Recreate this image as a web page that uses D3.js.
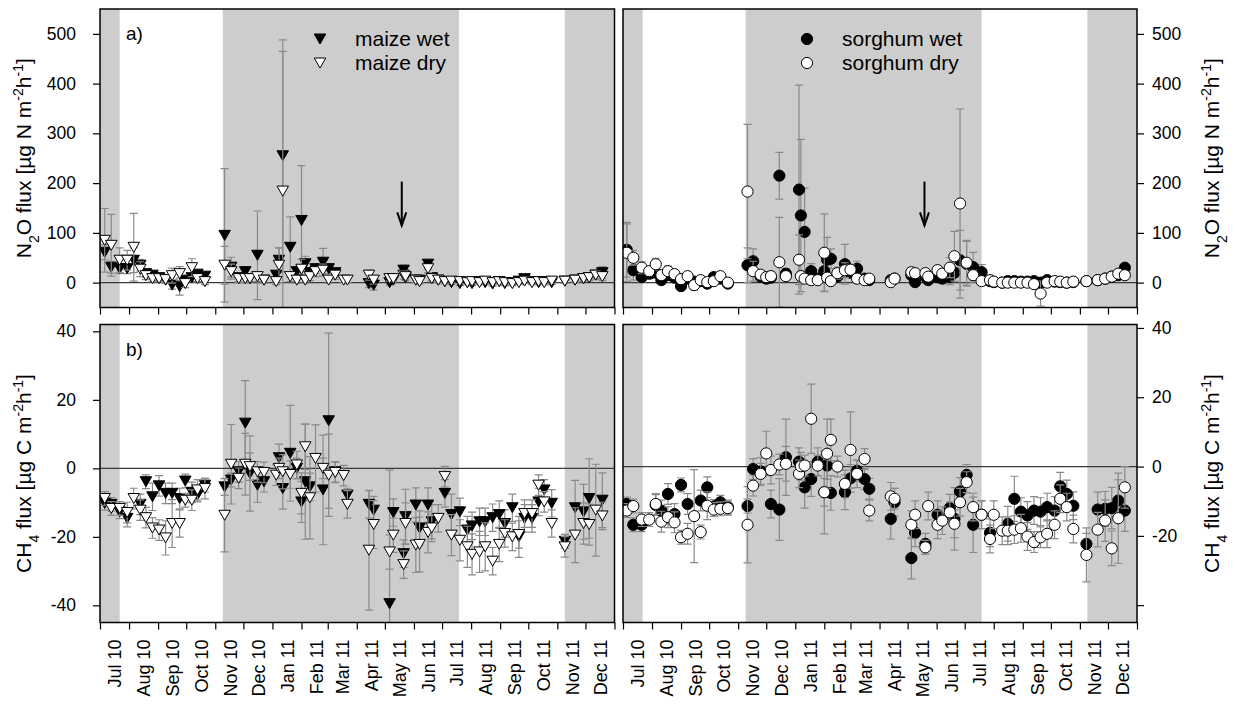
<!DOCTYPE html>
<html lang="en">
<head>
<meta charset="utf-8" />
<title>N2O and CH4 fluxes</title>
<script src="https://cdn.jsdelivr.net/npm/d3@7"></script>
<style>
  body { margin: 0; background: #fff; }
  svg { font-family: "Liberation Sans", Arial, sans-serif; }
  .tick line { stroke: #000; }
  .tick text { fill: #000; }
</style>
</head>
<body>
<svg id="chart" width="1235" height="709"></svg>
<script>
// ---- data ----
var maizeDates = ["2010-07-06","2010-07-13","2010-07-22","2010-07-30","2010-08-06","2010-08-13","2010-08-19","2010-08-26","2010-09-02","2010-09-09","2010-09-16","2010-09-24","2010-09-30","2010-10-07","2010-10-13","2010-10-21",
  "2010-11-11","2010-11-18","2010-11-26","2010-12-03","2010-12-08","2010-12-16","2010-12-23","2011-01-05","2011-01-08","2011-01-12","2011-01-20","2011-01-27","2011-02-01","2011-02-05","2011-02-10","2011-02-16","2011-02-24","2011-03-02","2011-03-09","2011-03-18","2011-03-22",
  "2011-04-14","2011-04-19","2011-05-06","2011-05-10","2011-05-21","2011-05-23","2011-06-03","2011-06-07","2011-06-16","2011-06-20","2011-06-27","2011-07-04","2011-07-11","2011-07-20","2011-07-28","2011-08-02","2011-08-10","2011-08-16","2011-08-24","2011-08-31","2011-09-06","2011-09-14","2011-09-21","2011-09-27","2011-10-05","2011-10-12","2011-10-18","2011-10-26",
  "2011-11-09","2011-11-20","2011-11-29","2011-12-05","2011-12-12","2011-12-19"];

var maizeN2OWet = [61,31,28,28,45,35,18,15,10,5,-5,-8,5,10,17,13,
  95,31,10,22,8,55,5,15,45,255,71,22,125,38,20,28,41,28,20,null,null,
  -2,-5,0,5,25,10,5,5,37,10,5,2,0,-2,0,-2,2,0,-3,2,-2,0,3,8,2,0,2,0,
  3,5,8,10,15,20];
var maizeN2OWetErr = [15,12,10,10,25,12,8,6,6,6,8,17,6,8,6,6,
  134,20,8,10,6,89,6,8,25,233,61,10,110,15,8,10,28,10,8,0,0,
  8,10,5,6,10,6,5,5,10,5,5,4,4,4,4,4,4,4,4,4,4,4,4,5,4,4,4,4,
  4,4,5,6,8,12];
var maizeN2ODry = [85,75,45,45,71,27,14,8,8,6,14,18,-2,30,8,2,
  35,22,8,8,8,12,5,2,35,184,12,5,27,5,12,22,25,5,15,5,5,
  15,5,8,8,15,12,5,2,28,8,5,2,3,2,0,2,0,3,0,2,0,-2,0,3,0,2,0,3,
  3,5,8,10,15,12];
var maizeN2ODryErr = [64,62,25,20,68,15,8,6,6,6,15,14,8,18,6,6,
  38,15,8,8,6,10,6,6,35,281,10,6,20,6,8,10,12,6,8,5,5,
  10,8,5,6,8,6,5,5,8,5,5,4,4,4,4,4,4,4,4,4,4,4,4,4,4,4,4,4,
  4,4,5,6,8,8];

var maizeCH4Wet = [-10.2,-10.5,-12.7,-14.6,null,-10.5,-3.9,-8.3,-5.1,-7.3,-7.3,-8.8,-3.7,-7,-7.8,-4.9,
  -5.4,-3.4,-1,13.2,-1.5,-4.9,-3.9,null,3.1,-5.9,4.4,0,-9.8,-3.9,-5.4,null,-6.3,13.9,-1,null,-7.8,
  -10.5,-12.2,-39.5,-12.9,-24.9,-14.1,-10.7,-17.4,-10.7,-15.6,null,-7.3,-13.5,-12.7,-18,-16.8,-15.6,-15.6,-14.4,-13.5,-16.1,-11.5,-20,-14.6,-14.6,-9.8,-6.3,-10.2,
  -21.3,-11.5,-12.7,-8.8,null,-9.3];
var maizeCH4WetErr = [2,2,2,2.5,0,3,2,4,3,3,3,3,2,3,2,2,
  2.5,2,3,12.4,11,5,3,0,4,6,14,3,6,16.8,4,0,16,25.6,3,0,2,
  4,4,39,4,4,8,5,5,5,5,0,4,6,4,4,4,4,4,4,4,4,4,6,4,4,4,3,4,
  2,8,8,11.6,0,8];
var maizeCH4Dry = [-8.8,-11.7,-11.7,-12.9,-8.8,-12.2,-14.4,-17.4,-18,-20.3,-16.1,-16.1,-9.3,-9.3,-6.3,-5.9,
  -13.7,1.2,-2.9,1.2,0.5,-1,-1.2,-2,0,-1,-1.8,1,-7.3,6.3,-8.6,2.9,0,-2,-1.2,-2.1,-10.5,
  -23.9,-16.4,-24.4,-19.5,-28.1,-16.1,-22.4,-22.2,-18.7,-17.4,-14.6,-2.4,-19.5,-21,-22.9,-25.1,-24.4,-22.9,-27.1,-22.2,-19,-20,-19.3,-13.2,-13.2,-4.9,-9.8,-16.1,
  -22.9,-19.5,-16.1,-16.4,-12.2,-13.9];
var maizeCH4DryErr = [2,2,2,3,3,3,3,3,3,5,7,4,2,3,3,3,
  10.7,11.6,3,9,4,3,3,3,3,5,4,4,6,6.6,12,9.8,3,12,3,3,4,
  17.5,7,5,5,4,6,8,8,6,4,4,3,6,6,6,6,6,7,4,5,4,4,4,4,4,3,3,4,
  3,8,6,6,13.4,4];

var sorghumDates = ["2010-07-05","2010-07-12","2010-07-21","2010-07-29","2010-08-05","2010-08-11","2010-08-18","2010-08-25","2010-09-01","2010-09-08","2010-09-15","2010-09-22","2010-09-29","2010-10-06","2010-10-13","2010-10-21",
  "2010-11-11","2010-11-17","2010-11-25","2010-12-01","2010-12-06","2010-12-15","2010-12-22","2011-01-05","2011-01-07","2011-01-11","2011-01-18","2011-01-25","2011-02-01","2011-02-04","2011-02-08","2011-02-15","2011-02-23","2011-03-01","2011-03-08","2011-03-16","2011-03-21",
  "2011-04-13","2011-04-17","2011-05-05","2011-05-09","2011-05-20","2011-05-23","2011-06-02","2011-06-07","2011-06-15","2011-06-20","2011-06-26","2011-07-03","2011-07-10","2011-07-19","2011-07-28","2011-08-01","2011-08-10","2011-08-16","2011-08-23","2011-08-30","2011-09-06","2011-09-13","2011-09-20","2011-09-27","2011-10-05","2011-10-11","2011-10-18","2011-10-25",
  "2011-11-08","2011-11-20","2011-11-28","2011-12-05","2011-12-12","2011-12-19"];

var sorghumN2OWet = [66,25,11,18,20,5,15,10,-7,8,2,3,-2,11,8,-2,
  35,43,12,8,10,215,18,187,135,102,23,8,23,46,48,12,37,20,28,8,5,
  5,8,15,1,12,5,11,8,11,20,45,38,31,21,3,1,0,3,3,2,2,3,0,5,2,1,0,1,
  3,5,8,12,15,30];
var sorghumN2OWetErr = [55,20,10,10,10,8,8,8,6,6,6,6,6,6,6,6,
  35,25,8,8,8,47,10,210,153,88,15,8,40,45,20,8,40,10,15,6,6,
  5,5,6,5,6,5,8,6,15,10,60,45,30,15,4,4,4,4,4,4,4,4,4,4,4,4,4,4,
  4,4,4,5,5,8];
var sorghumN2ODry = [60,50,30,23,37,15,23,17,7,13,-5,5,1,3,13,0,
  183,23,16,11,13,41,13,46,13,8,5,5,60,10,3,19,25,26,8,5,8,
  1,8,21,19,19,12,25,18,30,53,159,40,15,3,5,2,0,0,0,0,0,-3,-22,0,3,2,0,2,
  3,5,8,12,18,15];
var sorghumN2ODryErr = [58,15,12,8,12,8,10,8,8,6,10,6,6,6,6,6,
  135,20,8,8,8,90,8,50,10,8,8,6,78,10,8,12,15,10,8,6,6,
  5,8,8,8,6,6,8,8,20,50,190,45,10,8,4,4,4,4,4,4,4,5,25,4,4,4,4,4,
  4,4,4,5,6,6];

var sorghumCH4Wet = [-10.8,-16.8,-16.8,null,-11.1,-12.7,-7.9,-13.7,-5.3,-10.8,null,-9.8,-6,-11.5,-10.3,-11.7,
  -11.4,-0.7,-1.4,null,-10.8,-12.4,2.7,1.4,null,-6,-3.6,1.4,-7.4,0.3,-7.6,null,-7.4,-3.4,-1.2,-3.6,-6.4,
  -15.1,-10.3,-26.4,-19.1,-22.3,null,-13.9,null,-12,-15.1,-7.2,-2.4,-16.8,-13.9,-19.1,null,null,-16.5,-9.3,-13,-14.1,-12.7,-13,-11.7,-12.7,-5.7,-7.9,-11.3,
  -22.3,-12.4,-12.2,-12,-9.8,-12.7];
var sorghumCH4WetErr = [2,2,2,0,3,3,3,3,2,3,0,3,3,2,2,2,
  2,3,4,0,4,8.9,11,4,0,6,5,4,12,4,5,0,5,4,3,3,3,
  5.8,4,6,4,3,0,4,0,4,9,4,3,8,4,4,0,0,5,6.5,4,4,4,4,4,4,4,4,4,
  3,5,5,6,6,6];
var sorghumCH4Dry = [-12.7,-11.4,-15.3,-15.3,-10.8,-15.9,-14.6,-16.1,-20.4,-19.4,-14.3,-18.9,-11.3,-12.4,-12.2,-12,
  -16.8,-5.5,-2.1,3.8,-1,0.6,0.8,-2.1,0.1,0.3,13.8,0.3,-7.4,3.7,7.7,0,-5,4.8,-2.1,2.2,-12.7,
  -8.6,-9.3,-16.8,-13.9,-23.3,-11.4,-16.8,-15.6,-13.2,-16.5,-10.3,-4.5,-11.7,-13.9,-20.9,-13.9,-18.5,-18.5,-18.2,-17.8,-20.2,-21.8,-20.4,-19.4,-16.8,-9.3,-11.7,-18,
  -25.5,-18.2,-15.6,-23.6,-14.9,-6];
var sorghumCH4DryErr = [2,2,2,2,3,3,3,3,2,3,13.4,2,4,2,2,2,
  11,3,3,6.4,4,3,5,4,4,3,10,3,4,10,6,3,4,11,4,3,3,
  4,3,4,4,2,4,4,4,3,4,4,3,4,4,4,4,4,4,4,4,4,3,3,4,4,4,4,4,
  7.8,5,6,5,13,6];

// wet season shading, arrow date, month ticks
var wetSeasons = [["2010-07-01","2010-07-22"],["2010-11-09","2011-07-19"],["2011-11-09","2012-01-01"]];
var arrowDate = "2011-05-19";
var arrowFromTo = [203, 115];
var n2oTicks = [0,100,200,300,400,500];
var ch4Ticks = [-40,-20,0,20,40];

// ---- layout ----
var parse = d3.utcParse("%Y-%m-%d");
var svg = d3.select("#chart");
var cols = [{x0: 100, x1: 614.5}, {x0: 623, x1: 1137}];
var rows = [{y0: 9, y1: 307.5}, {y0: 324.5, y1: 622.5}];
var xDomain = [parse("2010-07-01"), parse("2012-01-01")];
var months = d3.utcMonth.range(xDomain[0], d3.utcDay.offset(xDomain[1], 1));

function toPoints(dates, vals, errs) {
  return dates.map(function(d, i) { return {date: parse(d), v: vals[i], e: errs[i]}; })
    .filter(function(p) { return p.v !== null; });
}

function triangle(w, h) {
  return "M" + (-w/2) + "," + (-h/2) + "L" + (w/2) + "," + (-h/2) + "L0," + (h/2) + "Z";
}

function drawPanel(cfg, idx) {
  var c = cols[cfg.col], r = rows[cfg.row];
  var x = d3.scaleUtc().domain(xDomain).range([c.x0, c.x1]);
  var y = d3.scaleLinear().domain(cfg.yDomain).range([r.y1, r.y0]);
  var g = svg.append("g");

  var clipId = "clip" + idx;
  svg.append("clipPath").attr("id", clipId).append("rect")
    .attr("x", c.x0).attr("y", r.y0).attr("width", c.x1 - c.x0).attr("height", r.y1 - r.y0);

  var inner = g.append("g").attr("clip-path", "url(#" + clipId + ")");

  // wet season shading
  inner.selectAll("rect.season").data(wetSeasons).enter().append("rect")
    .attr("x", function(d) { return x(parse(d[0])); })
    .attr("width", function(d) { return x(parse(d[1])) - x(parse(d[0])); })
    .attr("y", r.y0).attr("height", r.y1 - r.y0)
    .style("fill", "#cdcdcd");

  // zero line
  inner.append("line")
    .attr("x1", c.x0).attr("x2", c.x1).attr("y1", y(0)).attr("y2", y(0))
    .style("stroke", "#3a3a3a").style("stroke-width", 1.2);

  cfg.series.forEach(function(s) {
    var pts = toPoints(cfg.dates, s.vals, s.errs);
    var eb = inner.append("g").style("stroke", "#8a8a8a").style("stroke-width", 1.2);
    pts.filter(function(p) { return p.e > 0; }).forEach(function(p) {
      var px = x(p.date);
      eb.append("line").attr("x1", px).attr("x2", px).attr("y1", y(p.v + p.e)).attr("y2", y(p.v - p.e));
      eb.append("line").attr("x1", px - 4).attr("x2", px + 4).attr("y1", y(p.v + p.e)).attr("y2", y(p.v + p.e));
      eb.append("line").attr("x1", px - 4).attr("x2", px + 4).attr("y1", y(p.v - p.e)).attr("y2", y(p.v - p.e));
    });
    var marks = inner.append("g");
    if (cfg.shape === "tri") {
      marks.selectAll("path").data(pts).enter().append("path")
        .attr("d", triangle(11.5, 10))
        .attr("transform", function(p) { return "translate(" + x(p.date) + "," + y(p.v) + ")"; })
        .style("fill", s.fill).style("stroke", "#000").style("stroke-width", 1);
    } else {
      marks.selectAll("circle").data(pts).enter().append("circle")
        .attr("cx", function(p) { return x(p.date); })
        .attr("cy", function(p) { return y(p.v); })
        .attr("r", 5.6)
        .style("fill", s.fill).style("stroke", "#000").style("stroke-width", 1);
    }
  });

  // arrow on N2O panels
  if (cfg.row === 0) {
    var ax = x(parse(arrowDate)), ay0 = y(arrowFromTo[0]), ay1 = y(arrowFromTo[1]);
    var arr = g.append("g").style("stroke", "#000").style("stroke-width", 2).style("fill", "none");
    arr.append("line").attr("x1", ax).attr("x2", ax).attr("y1", ay0).attr("y2", ay1);
    arr.append("path").attr("d", "M" + (ax - 4.5) + "," + (ay1 - 13) + "L" + ax + "," + ay1 + "L" + (ax + 4.5) + "," + (ay1 - 13));
  }

  // frame
  g.append("rect").attr("x", c.x0).attr("y", r.y0).attr("width", c.x1 - c.x0).attr("height", r.y1 - r.y0)
    .style("fill", "none").style("stroke", "#000").style("stroke-width", 1.5);

  // x ticks
  var xa = g.append("g").attr("transform", "translate(0," + r.y1 + ")")
    .call(d3.axisBottom(x).tickValues(months).tickFormat("").tickSize(7).tickSizeOuter(0));
  xa.select(".domain").remove();
  xa.selectAll(".tick line").style("stroke-width", 1.2);

  if (cfg.row === 1) {
    var mfmt = d3.utcFormat("%b %y");
    g.selectAll("text.month").data(months.slice(0, -1)).enter().append("text")
      .attr("transform", function(d) { return "translate(" + x(d3.utcDay.offset(d, 16)) + "," + (r.y1 + 17) + ") rotate(-90)"; })
      .attr("dy", "0.35em")
      .style("text-anchor", "end").style("font-size", "18px")
      .text(mfmt);
  }

  // y axis
  var ticks = cfg.row === 0 ? n2oTicks : ch4Ticks;
  var yAxis = cfg.col === 0 ? d3.axisLeft(y) : d3.axisRight(y);
  yAxis.tickValues(ticks).tickSize(7).tickPadding(cfg.col === 0 ? 17 : 8).tickSizeOuter(0)
    .tickFormat(function(d) { return (cfg.col === 1 && d === -40) ? "" : d; });
  var ya = g.append("g").attr("transform", "translate(" + (cfg.col === 0 ? c.x0 : c.x1) + ",0)").call(yAxis);
  ya.select(".domain").remove();
  ya.selectAll(".tick line").style("stroke-width", 1.2);
  ya.selectAll("text").style("font-size", "17.5px").style("font-family", "Liberation Sans, Arial, sans-serif");

  // y title
  var tx = cfg.col === 0 ? 24 : 1212;
  var ty = (r.y0 + r.y1) / 2;
  var t = g.append("text")
    .attr("transform", "translate(" + tx + "," + ty + ") rotate(-90)")
    .attr("dy", "0.35em").style("text-anchor", "middle").style("font-size", "21px");
  cfg.title.forEach(function(part) {
    var ts = t.append("tspan").text(part[0]);
    if (part[1]) ts.attr("baseline-shift", part[1]).style("font-size", "14px");
  });

  // panel letter
  if (cfg.letter) {
    g.append("text").attr("x", c.x0 + 26).attr("y", r.y0 + 31)
      .style("font-size", "19px").text(cfg.letter);
  }

  // legend
  if (cfg.legend) {
    var lg = g.append("g");
    cfg.legend.forEach(function(l, i) {
      var ly = r.y0 + 30 + i * 24;
      var lx = c.x0 + cfg.legendX;
      if (cfg.shape === "tri") {
        lg.append("path").attr("d", triangle(11.5, 10)).attr("transform", "translate(" + lx + "," + ly + ")")
          .style("fill", l.fill).style("stroke", "#000");
      } else {
        lg.append("circle").attr("cx", lx).attr("cy", ly).attr("r", 5.6)
          .style("fill", l.fill).style("stroke", "#000");
      }
      lg.append("text").attr("x", lx + 35).attr("y", ly).attr("dy", "0.35em")
        .style("font-size", "21px").text(l.label);
    });
  }
}

var n2oTitle = [["N"],["2","sub"],["O flux [\u00b5g N m"],["-2","super"],["h"],["-1","super"],["]"]];
var ch4Title = [["CH"],["4","sub"],[" flux  [\u00b5g C m"],["-2","super"],["h"],["-1","super"],["]"]];

var panels = [
  {col: 0, row: 0, yDomain: [-50, 550], dates: maizeDates, shape: "tri", title: n2oTitle, letter: "a)",
   legendX: 220, legend: [{label: "maize wet", fill: "#000"}, {label: "maize dry", fill: "#fff"}],
   series: [{vals: maizeN2OWet, errs: maizeN2OWetErr, fill: "#000"}, {vals: maizeN2ODry, errs: maizeN2ODryErr, fill: "#fff"}]},
  {col: 1, row: 0, yDomain: [-50, 550], dates: sorghumDates, shape: "circle", title: n2oTitle,
   legendX: 184, legend: [{label: "sorghum wet", fill: "#000"}, {label: "sorghum dry", fill: "#fff"}],
   series: [{vals: sorghumN2OWet, errs: sorghumN2OWetErr, fill: "#000"}, {vals: sorghumN2ODry, errs: sorghumN2ODryErr, fill: "#fff"}]},
  {col: 0, row: 1, yDomain: [-45, 42], dates: maizeDates, shape: "tri", title: ch4Title, letter: "b)",
   series: [{vals: maizeCH4Wet, errs: maizeCH4WetErr, fill: "#000"}, {vals: maizeCH4Dry, errs: maizeCH4DryErr, fill: "#fff"}]},
  {col: 1, row: 1, yDomain: [-45, 41], dates: sorghumDates, shape: "circle", title: ch4Title,
   series: [{vals: sorghumCH4Wet, errs: sorghumCH4WetErr, fill: "#000"}, {vals: sorghumCH4Dry, errs: sorghumCH4DryErr, fill: "#fff"}]}
];

panels.forEach(drawPanel);
</script>
</body>
</html>
